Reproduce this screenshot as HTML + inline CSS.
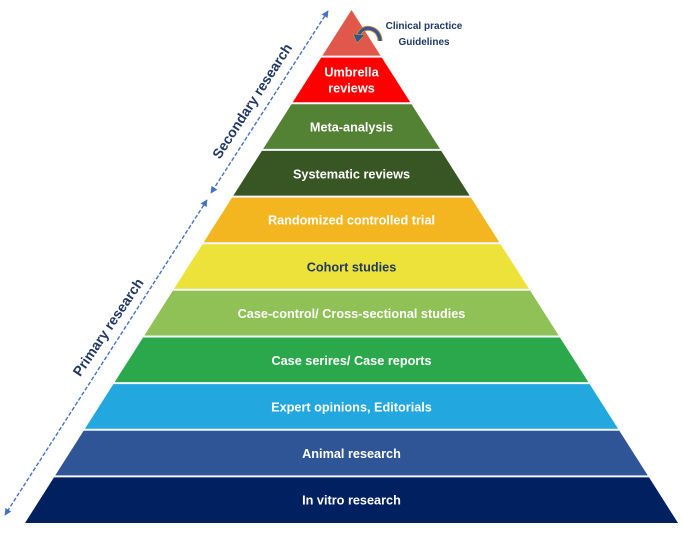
<!DOCTYPE html>
<html>
<head>
<meta charset="utf-8">
<style>
  html,body{margin:0;padding:0;background:#fff;}
  svg{display:block;}
  .lbl{font-family:"Liberation Sans",Arial,sans-serif;font-weight:bold;font-size:12.7px;fill:#fff;text-anchor:middle;}
  .side{font-family:"Liberation Sans",Arial,sans-serif;font-weight:bold;font-size:14px;fill:#1f3864;text-anchor:middle;}
</style>
</head>
<body>
<svg width="683" height="533" viewBox="0 0 683 533" xmlns="http://www.w3.org/2000/svg">
  <defs>
    <marker id="ah" viewBox="0 0 10 10" refX="9" refY="5" markerWidth="7" markerHeight="7" orient="auto-start-reverse" markerUnits="userSpaceOnUse">
      <path d="M0,0 L10,5 L0,10 z" fill="#4472c4"/>
    </marker>
  </defs>

  <!-- pyramid bands -->
  <polygon points="351.5,10 381.2,56.6 321.8,56.6" fill="#e0574b"/>
  <polygon points="321.8,56.6 381.2,56.6 410.9,103.3 292.1,103.3" fill="#ff0000"/>
  <polygon points="292.1,103.3 410.9,103.3 440.6,149.9 262.5,149.9" fill="#548235"/>
  <polygon points="262.5,149.9 440.6,149.9 470.3,196.6 232.7,196.6" fill="#375623"/>
  <polygon points="232.7,196.6 470.3,196.6 499.9,243.2 203.1,243.2" fill="#f3b620"/>
  <polygon points="203.1,243.2 499.9,243.2 529.6,289.8 173.4,289.8" fill="#ece23a"/>
  <polygon points="173.4,289.8 529.6,289.8 559.3,336.5 143.7,336.5" fill="#8fc156"/>
  <polygon points="143.7,336.5 559.3,336.5 589.0,383.1 114.0,383.1" fill="#2ba84c"/>
  <polygon points="114.0,383.1 589.0,383.1 618.7,429.8 84.3,429.8" fill="#22a7df"/>
  <polygon points="84.3,429.8 618.7,429.8 648.4,476.4 54.6,476.4" fill="#2f5597"/>
  <polygon points="54.6,476.4 648.4,476.4 678,523 25,523" fill="#002060"/>

  <!-- white separators -->
  <g stroke="#f4f7fb" stroke-width="2">
    <line x1="319" y1="56.6" x2="384" y2="56.6"/>
    <line x1="289" y1="103.3" x2="414" y2="103.3"/>
    <line x1="259" y1="149.9" x2="444" y2="149.9"/>
    <line x1="230" y1="196.6" x2="473" y2="196.6"/>
    <line x1="200" y1="243.2" x2="503" y2="243.2"/>
    <line x1="170" y1="289.8" x2="533" y2="289.8"/>
    <line x1="140" y1="336.5" x2="562" y2="336.5"/>
    <line x1="111" y1="383.1" x2="592" y2="383.1"/>
    <line x1="81" y1="429.8" x2="622" y2="429.8"/>
    <line x1="51" y1="476.4" x2="652" y2="476.4"/>
  </g>

  <!-- labels -->
  <text class="lbl" x="351.5" y="76.5">Umbrella</text>
  <text class="lbl" x="351.5" y="92.5">reviews</text>
  <text class="lbl" x="351.5" y="131.5">Meta-analysis</text>
  <text class="lbl" x="351.5" y="178.5">Systematic reviews</text>
  <text class="lbl" x="351.5" y="224.5">Randomized controlled trial</text>
  <text class="lbl" x="351.5" y="271.5" style="fill:#1f3864">Cohort studies</text>
  <text class="lbl" x="351.5" y="318">Case-control/ Cross-sectional studies</text>
  <text class="lbl" x="351.5" y="365">Case serires/ Case reports</text>
  <text class="lbl" x="351.5" y="411.5">Expert opinions, Editorials</text>
  <text class="lbl" x="351.5" y="458">Animal research</text>
  <text class="lbl" x="351.5" y="504.5">In vitro research</text>

  <!-- clinical practice guidelines -->
  <path d="M380,41 C380,27 362,24 359,35" fill="none" stroke="#c98a2e" stroke-width="5"/>
  <path d="M380,41 C380,27 362,24 359,35" fill="none" stroke="#2f5597" stroke-width="3"/>
  <polygon points="353,34 365,35 357,43" fill="#2f5597" stroke="#c98a2e" stroke-width="0.8"/>
  <text x="424" y="29" style="font-family:'Liberation Sans',Arial,sans-serif;font-weight:bold;font-size:10px;fill:#1f3864;text-anchor:middle;">Clinical practice</text>
  <text x="424" y="45" style="font-family:'Liberation Sans',Arial,sans-serif;font-weight:bold;font-size:10px;fill:#1f3864;text-anchor:middle;">Guidelines</text>

  <!-- dashed double arrows -->
  <line x1="328" y1="11" x2="211" y2="193" stroke="#4472c4" stroke-width="1.4" stroke-dasharray="4,2" marker-start="url(#ah)" marker-end="url(#ah)"/>
  <line x1="207" y1="200" x2="5" y2="515" stroke="#4472c4" stroke-width="1.4" stroke-dasharray="4,2" marker-start="url(#ah)" marker-end="url(#ah)"/>

  <!-- side labels -->
  <text class="side" transform="translate(252,101) rotate(-57)" y="5">Secondary research</text>
  <text class="side" transform="translate(108,327) rotate(-56)" y="5">Primary research</text>
</svg>
</body>
</html>
